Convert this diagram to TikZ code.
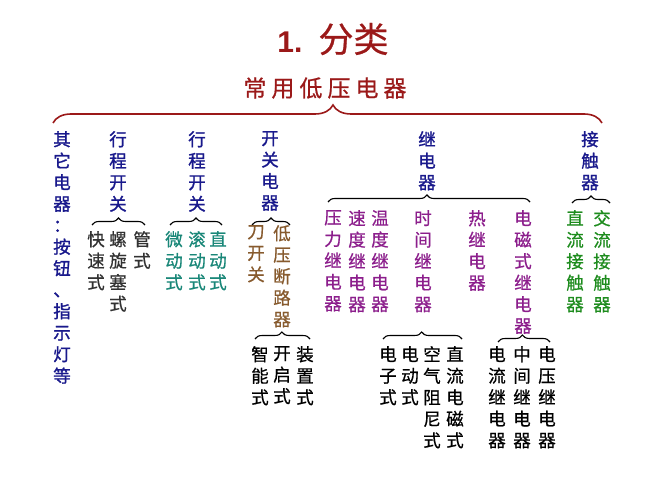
\documentclass[tikz,border=0pt]{standalone}
\usepackage{fontspec}
\setmainfont{Noto Sans CJK SC}[FakeBold=0.6]
\newfontfamily\boldcjk{Noto Sans CJK SC}[FakeBold=1.2]
\newfontfamily\latb{Liberation Sans}
\usetikzlibrary{decorations.pathreplacing}
\definecolor{dred}{RGB}{155,25,25}
\definecolor{navy}{RGB}{25,25,140}
\definecolor{dgray}{RGB}{50,50,50}
\definecolor{teal2}{RGB}{25,135,120}
\definecolor{brown2}{RGB}{135,90,45}
\definecolor{purp}{RGB}{140,30,140}
\definecolor{green2}{RGB}{30,140,30}
\newcommand{\vnode}[5]{\node[vt,text=#2] (#1) at ({#3},{9-#4}) {#5};}
\newcommand{\bnode}[5]{\node[vt,text=#2,font=\boldcjk\fontsize{17.5}{21.5}\selectfont] (#1) at ({#3},{9-#4}) {#5};}
\begin{document}
\begin{tikzpicture}[x=1pt,y=1pt,
  vt/.style={align=center,inner sep=0pt,anchor=north,font=\fontsize{17.5}{21.5}\selectfont},
  br/.style={decorate,decoration={brace,amplitude=7pt,aspect=#1},line width=1.1pt,black},
  br/.default=0.5,
  mainbr/.style={decorate,decoration={brace,amplitude=18pt,aspect=0.51},line width=1.6pt,dred}]
\useasboundingbox (0,0) rectangle (667,-500);
\fill[white] (0,0) rectangle (667,-500);
% title
\node[text=dred,inner sep=0pt] (title) at (333,-39)
  {{\latb\bfseries\fontsize{30}{30}\selectfont 1.}\hspace{16pt}{\fontsize{35}{35}\selectfont 分类}};
\node[text=dred,inner sep=0pt,font=\fontsize{23}{23}\selectfont] (root) at (325,-88)
  {常\hspace{5pt}用\hspace{5pt}低\hspace{5pt}压\hspace{5pt}电\hspace{5pt}器};
\coordinate (m1) at (53,-123);
\coordinate (m2) at (602,-123);
\draw[mainbr] (m1) -- (m2);
% level 1
\bnode{c1}{navy}{62}{140}{其\\它\\电\\器\\：\\按\\钮\\、\\指\\示\\灯\\等}
\bnode{c2}{navy}{118}{140}{行\\程\\开\\关}
\bnode{c3}{navy}{197}{140}{行\\程\\开\\关}
\bnode{c4}{navy}{270}{140}{开\\关\\电\\器}
\bnode{c5}{navy}{427}{140}{继\\电\\器}
\bnode{c6}{navy}{590}{140}{接\\触\\器}
% braces level 1
\coordinate (b2l) at (92,-225);  \coordinate (b2r) at (145,-225);
\coordinate (b3l) at (170,-225); \coordinate (b3r) at (222,-225);
\coordinate (b4l) at (252,-225); \coordinate (b4r) at (290,-225);
\coordinate (b5l) at (328,-202); \coordinate (b5r) at (530,-202);
\coordinate (b6l) at (572,-203); \coordinate (b6r) at (610,-203);
\draw[br] (b2l) -- (b2r);
\draw[br] (b3l) -- (b3r);
\draw[br] (b4l) -- (b4r);
\draw[br=0.49] (b5l) -- (b5r);
\draw[br] (b6l) -- (b6r);
% level 2
\vnode{k1}{dgray}{96}{240}{快\\速\\式}
\vnode{k2}{dgray}{118}{240}{螺\\旋\\塞\\式}
\vnode{k3}{dgray}{142}{240}{管\\式}
\vnode{w1}{teal2}{174}{240}{微\\动\\式}
\vnode{w2}{teal2}{197}{240}{滚\\动\\式}
\vnode{w3}{teal2}{218}{240}{直\\动\\式}
\vnode{s1}{brown2}{256}{234}{刀\\开\\关}
\vnode{s2}{brown2}{282}{234}{低\\压\\断\\路\\器}
\vnode{r1}{purp}{333}{219}{压\\力\\继\\电\\器}
\vnode{r2}{purp}{357}{219}{速\\度\\继\\电\\器}
\vnode{r3}{purp}{380}{219}{温\\度\\继\\电\\器}
\vnode{r4}{purp}{423}{219}{时\\间\\继\\电\\器}
\vnode{r5}{purp}{477}{219}{热\\继\\电\\器}
\vnode{r6}{purp}{523}{219}{电\\磁\\式\\继\\电\\器}
\vnode{t1}{green2}{575}{219}{直\\流\\接\\触\\器}
\vnode{t2}{green2}{602}{219}{交\\流\\接\\触\\器}
% braces level 2
\coordinate (d1l) at (255,-339); \coordinate (d1r) at (310,-339);
\coordinate (d2l) at (383,-339); \coordinate (d2r) at (462,-339);
\coordinate (d3l) at (498,-342); \coordinate (d3r) at (550,-342);
\draw[br=0.49] (d1l) -- (d1r);
\draw[br=0.49] (d2l) -- (d2r);
\draw[br=0.47] (d3l) -- (d3r);
% level 3
\vnode{e1}{black}{260}{355}{智\\能\\式}
\vnode{e2}{black}{282}{355}{开\\启\\式}
\vnode{e3}{black}{305}{355}{装\\置\\式}
\vnode{f1}{black}{388}{355}{电\\子\\式}
\vnode{f2}{black}{410}{355}{电\\动\\式}
\vnode{f3}{black}{432}{355}{空\\气\\阻\\尼\\式}
\vnode{f4}{black}{455}{355}{直\\流\\电\\磁\\式}
\vnode{g1}{black}{497}{355}{电\\流\\继\\电\\器}
\vnode{g2}{black}{522}{355}{中\\间\\继\\电\\器}
\vnode{g3}{black}{547}{355}{电\\压\\继\\电\\器}
\end{tikzpicture}
\end{document}
